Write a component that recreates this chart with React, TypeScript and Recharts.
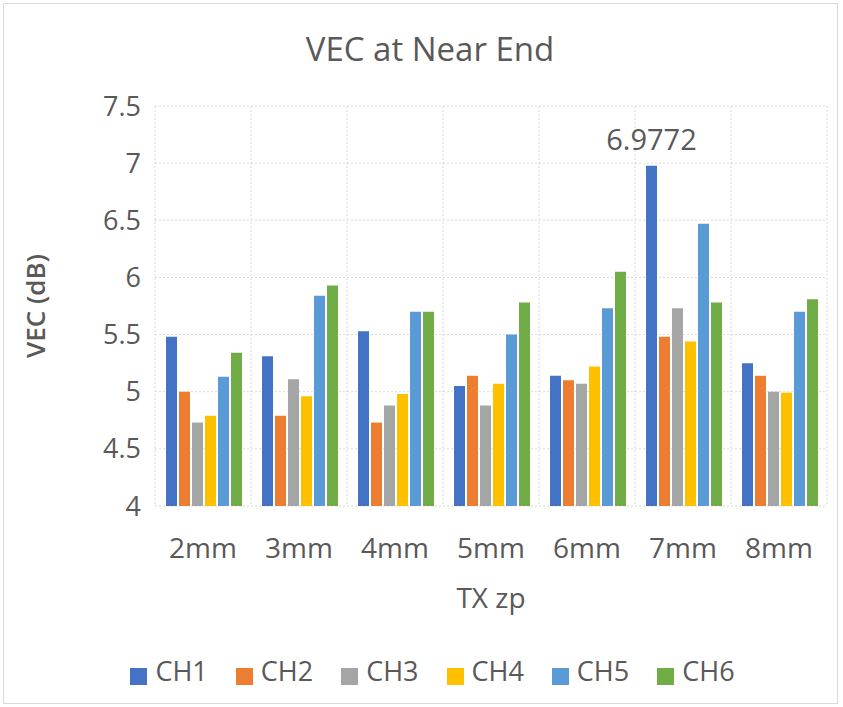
import { BarChart, Bar, XAxis, YAxis, CartesianGrid, Legend } from "recharts";

const categories = ["2mm", "3mm", "4mm", "5mm", "6mm", "7mm", "8mm"];
const ch1 = [5.48, 5.31, 5.53, 5.05, 5.14, 6.9772, 5.25];
const ch2 = [5.0, 4.79, 4.73, 5.14, 5.1, 5.48, 5.14];
const ch3 = [4.73, 5.11, 4.88, 4.88, 5.07, 5.73, 5.0];
const ch4 = [4.79, 4.96, 4.98, 5.07, 5.22, 5.44, 4.99];
const ch5 = [5.13, 5.84, 5.7, 5.5, 5.73, 6.47, 5.7];
const ch6 = [5.34, 5.93, 5.7, 5.78, 6.05, 5.78, 5.81];
const yTicks = [4, 4.5, 5, 5.5, 6, 6.5, 7, 7.5];
const labelledCategory = "7mm";

const seriesNames = ["CH1", "CH2", "CH3", "CH4", "CH5", "CH6"];
const seriesColors = ["#4472C4", "#ED7D31", "#A5A5A5", "#FFC000", "#5B9BD5", "#70AD47"];
const seriesValues = [ch1, ch2, ch3, ch4, ch5, ch6];

const data = categories.map((name, i) => {
  const row: Record<string, string | number> = { name };
  seriesNames.forEach((s, k) => {
    row[s] = seriesValues[k][i];
  });
  return row;
});

const FONT = "'Open Sans', 'Noto Sans', sans-serif";
const TEXT = "#595959";

function YTitle(props: any) {
  const vb = props.viewBox || { x: 0, y: 0, width: 0, height: 0 };
  const x = vb.x + 35;
  const y = vb.y + vb.height / 2;
  return (
    <text
      x={x}
      y={y}
      transform={`rotate(-90, ${x}, ${y})`}
      textAnchor="middle"
      dominantBaseline="central"
      fill={TEXT}
      fontSize={26}
      fontWeight={600}
      fontFamily={FONT}
    >
      VEC (dB)
    </text>
  );
}

function peakLabel(props: any) {
  const { x, y, width, value, index } = props;
  if (categories[index] !== labelledCategory) return null;
  return (
    <text
      x={x + width / 2}
      y={y - 16}
      textAnchor="middle"
      fill={TEXT}
      fontSize={29}
      fontFamily={FONT}
    >
      {value}
    </text>
  );
}

export default function App() {
  return (
    <div style={{ position: "absolute", left: 0, top: 0, width: 843, height: 707, background: "#fff", fontFamily: FONT }}>
      <div
        style={{
          position: "absolute", left: 3, top: 3, width: 833, height: 699,
          border: "1px solid #d9d9d9",
        }}
      />
      <div
        style={{
          position: "absolute", left: 0, top: 26, width: 860, textAlign: "center",
          fontSize: 33, color: TEXT, fontFamily: FONT,
        }}
      >
        VEC at Near End
      </div>
      <BarChart
        width={843}
        height={707}
        data={data}
        margin={{ top: 106, right: 16, left: 0, bottom: 21 }}
        barCategoryGap={11}
        barGap={2}
        style={{ position: "absolute", left: 0, top: 0 }}
      >
        <CartesianGrid
          stroke="#d9d9d9"
          strokeDasharray="2 2"
          verticalCoordinatesGenerator={({ offset }: any) =>
            categories.map((_, i) => offset.left + (i * offset.width) / categories.length).concat(offset.left + offset.width)
          }
        />
        <XAxis
          dataKey="name"
          height={150}
          axisLine={false}
          tickLine={false}
          tickSize={0}
          tickMargin={32}
          tick={{ fontSize: 28, fill: TEXT, fontFamily: FONT }}
          label={{ value: "TX zp", position: "insideTop", offset: 82, fontSize: 28, fill: TEXT, fontFamily: FONT }}
        />
        <YAxis
          width={155}
          domain={[4, 7.5]}
          ticks={yTicks}
          axisLine={false}
          tickLine={false}
          tickSize={0}
          tickMargin={14}
          tick={{ fontSize: 27, fill: TEXT, fontFamily: FONT }}
          label={<YTitle />}
        />
        <Legend
          verticalAlign="bottom"
          align="center"
          iconType="square"
          iconSize={17}
          wrapperStyle={{ height: 30, lineHeight: "30px", paddingLeft: 33 }}
          formatter={(value: string) => (
            <span style={{ color: TEXT, fontSize: 27, fontFamily: FONT, marginLeft: 4, marginRight: 18 }}>{value}</span>
          )}
        />
        {seriesNames.map((s, k) => (
          <Bar
            key={s}
            dataKey={s}
            fill={seriesColors[k]}
            isAnimationActive={false}
            label={k === 0 ? peakLabel : undefined}
          />
        ))}
      </BarChart>
    </div>
  );
}
